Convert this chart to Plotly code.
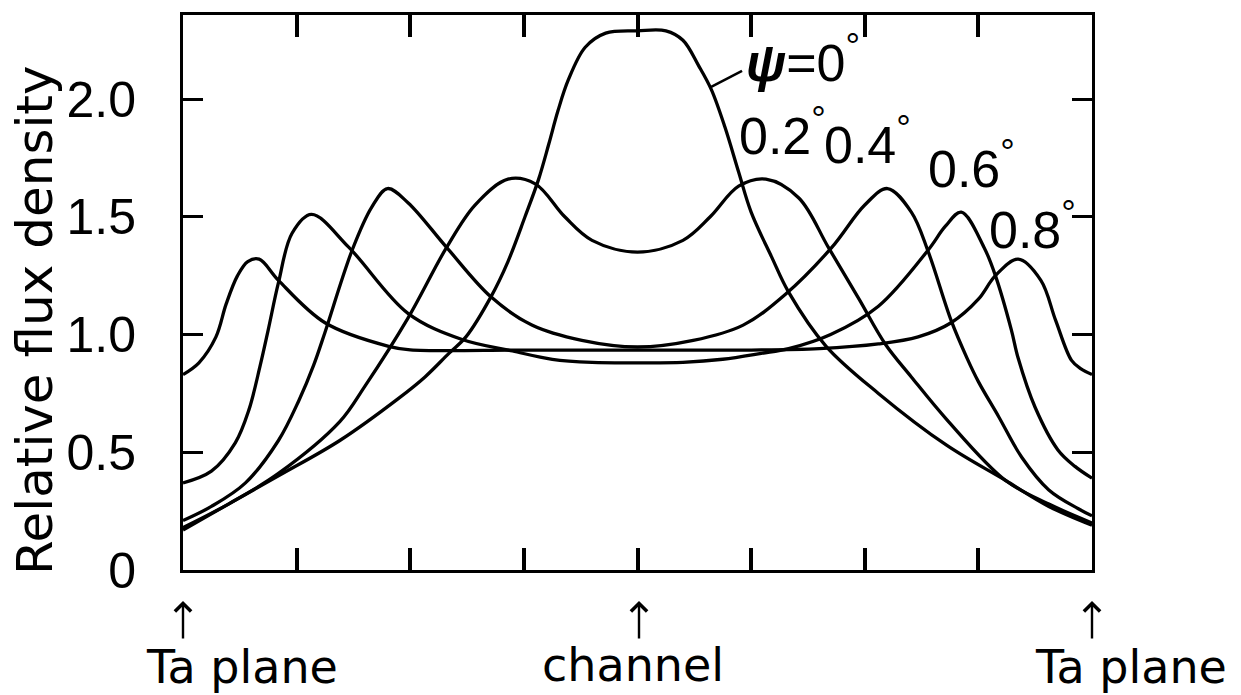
import plotly.graph_objects as go

# Position across the channel, in tick units (-4 = Ta plane, 0 = channel centre, 4 = Ta plane)
psi0_x = [-4, -3.6, -3.16, -2.62, -2.10, -1.87, -1.66, -1.51, -1.29, -1.14, -0.99, -0.87, -0.78, -0.70,
          -0.61, -0.46, -0.28, 0, 0.25, 0.40, 0.54, 0.65, 0.77, 0.89, 1.00, 1.18, 1.33, 1.66, 2.12, 2.72,
          3.24, 3.62, 4]
psi0_y = [0.17, 0.28, 0.40, 0.55, 0.73, 0.82, 0.92, 0.99, 1.16, 1.31, 1.50, 1.66, 1.81, 1.95,
          2.08, 2.22, 2.28, 2.29, 2.29, 2.25, 2.14, 2.04, 1.88, 1.69, 1.52, 1.33, 1.18, 0.95, 0.75, 0.53,
          0.38, 0.27, 0.19]

psi2_x = [-4, -3.6, -3.16, -2.62, -2.40, -2.02, -1.68, -1.43, -1.14, -0.90, -0.64, -0.40, 0, 0.40, 0.64,
          0.89, 1.13, 1.42, 1.68, 1.95, 2.18, 2.41, 2.72, 3.24, 3.62, 4]
psi2_y = [0.18, 0.28, 0.41, 0.63, 0.78, 1.07, 1.37, 1.55, 1.66, 1.64, 1.50, 1.40, 1.35, 1.40, 1.50,
          1.63, 1.66, 1.58, 1.37, 1.15, 0.96, 0.82, 0.64, 0.38, 0.28, 0.20]

psi4_x = [-4, -3.75, -3.45, -3.16, -2.98, -2.85, -2.75, -2.51, -2.34, -2.20, -2.02, -1.68, -1.29, -0.93,
          -0.49, 0, 0.49, 0.93, 1.30, 1.71, 2.0, 2.20, 2.41, 2.56, 2.76, 2.90, 3.0, 3.18, 3.38, 3.62, 3.88, 4]
psi4_y = [0.21, 0.27, 0.37, 0.55, 0.72, 0.87, 1.01, 1.36, 1.54, 1.62, 1.56, 1.37, 1.16, 1.04,
          0.975, 0.947, 0.975, 1.04, 1.17, 1.37, 1.55, 1.62, 1.52, 1.35, 1.06, 0.90, 0.80, 0.65, 0.48,
          0.34, 0.26, 0.23]

psi6_x = [-4, -3.75, -3.54, -3.42, -3.32, -3.25, -3.16, -3.04, -2.87, -2.54, -2.02, -1.55, -1.10, -0.75,
          -0.40, 0, 0.40, 0.75, 1.09, 1.33, 1.7, 2.12, 2.56, 2.71, 2.85, 3.05, 3.15, 3.29, 3.35, 3.50, 3.70,
          3.85, 4]
psi6_y = [0.37, 0.42, 0.54, 0.68, 0.87, 1.02, 1.22, 1.43, 1.51, 1.37, 1.09, 0.98, 0.93, 0.895,
          0.882, 0.88, 0.882, 0.895, 0.92, 0.94, 1.00, 1.12, 1.36, 1.46, 1.52, 1.37, 1.25, 1.02, 0.90,
          0.69, 0.51, 0.44, 0.39]

psi8_x = [-4, -3.86, -3.71, -3.62, -3.52, -3.43, -3.33, -3.16, -2.75, -2.19, -2.0, -1.0, 0, 1.0, 1.6,
          2.12, 2.47, 2.76, 3.0, 3.15, 3.35, 3.55, 3.68, 3.82, 3.9, 4]
psi8_y = [0.83, 0.88, 0.99, 1.13, 1.25, 1.31, 1.32, 1.23, 1.05, 0.95, 0.935, 0.934, 0.934, 0.934, 0.94,
          0.96, 0.99, 1.05, 1.15, 1.25, 1.32, 1.23, 1.06, 0.89, 0.855, 0.83]

series = [(psi0_x, psi0_y), (psi2_x, psi2_y), (psi4_x, psi4_y), (psi6_x, psi6_y), (psi8_x, psi8_y)]

y_tickvals = [0, 0.5, 1.0, 1.5, 2.0]
y_ticktext = ["0", "0.5", "1.0", "1.5", "2.0"]

curve_labels = ["<b><i>ψ</i></b>=0<sup>°</sup>", "0.2<sup>°</sup>", "0.4<sup>°</sup>",
                "0.6<sup>°</sup>", "0.8<sup>°</sup>"]
label_x = [1.46, 1.28, 2.02, 2.94, 3.48]
label_y = [2.17, 1.86, 1.82, 1.72, 1.46]

bottom_text = ["Ta plane", "channel", "Ta plane"]

fig = go.Figure()
for xs, ys in series:
    fig.add_trace(go.Scatter(x=xs, y=ys, mode="lines",
                             line=dict(color="black", width=3.3, shape="spline", smoothing=1.0),
                             showlegend=False, hoverinfo="skip"))

W, H = 1241, 695
L, R, T, B = 183, 1092, 15, 570


def px2paper_x(px):
    return (px - L) / (R - L)


def py2paper_y(py):
    return (B - py) / (B - T)


ann = []
lab_font = dict(family="Liberation Sans", size=52, color="black")
for t, x, y in zip(curve_labels, label_x, label_y):
    ann.append(dict(text=t, x=x, y=y, xref="x", yref="y", showarrow=False,
                    xanchor="center", yanchor="middle", font=lab_font))

ann.append(dict(text="Relative flux density", textangle=-90, x=px2paper_x(35), y=py2paper_y(320),
                xref="paper", yref="paper", showarrow=False, xanchor="center", yanchor="middle",
                font=dict(family="DejaVu Sans", size=50, color="black")))

for pxc in [183, 639, 1092]:
    ann.append(dict(text="", x=px2paper_x(pxc), y=py2paper_y(601), xref="paper", yref="paper",
                    showarrow=True, ax=0, ay=39, arrowhead=4, arrowsize=1.3, arrowwidth=2.4,
                    arrowcolor="black", standoff=0, startstandoff=0))

for t, pxc, pyc in zip(bottom_text, [242, 633, 1131], [667, 665, 667]):
    ann.append(dict(text=t, x=px2paper_x(pxc), y=py2paper_y(pyc), xref="paper", yref="paper",
                    showarrow=False, xanchor="center", yanchor="middle",
                    font=dict(family="DejaVu Sans", size=46, color="black")))

fig.update_layout(
    width=W, height=H,
    margin=dict(l=L, r=W - R, t=T, b=H - B, pad=0, autoexpand=False),
    plot_bgcolor="white", paper_bgcolor="white",
    annotations=ann,
    shapes=[dict(type="line", xref="x", yref="y", x0=0.64, y0=2.05, x1=0.92, y1=2.12,
                 line=dict(color="black", width=2.5))],
    xaxis=dict(range=[-4, 4], tick0=-4, dtick=1, ticks="inside", ticklen=22, tickwidth=3.5,
               tickcolor="black", showline=True, linewidth=3, linecolor="black", mirror="allticks",
               showticklabels=False, showgrid=False, zeroline=False, fixedrange=True, automargin=False),
    yaxis=dict(range=[0, 2.357], tickvals=y_tickvals, ticktext=y_ticktext, ticks="inside",
               ticklen=20, tickwidth=3, tickcolor="black", showline=True, linewidth=3,
               linecolor="black", mirror="allticks", showgrid=False, zeroline=False,
               ticklabelstandoff=34, automargin=False,
               tickfont=dict(family="Liberation Sans", size=50, color="black"), fixedrange=True),
)

fig.write_html("out.html", config={"displayModeBar": False},
               post_script="document.body.style.margin='0px';document.body.style.overflow='hidden';")
